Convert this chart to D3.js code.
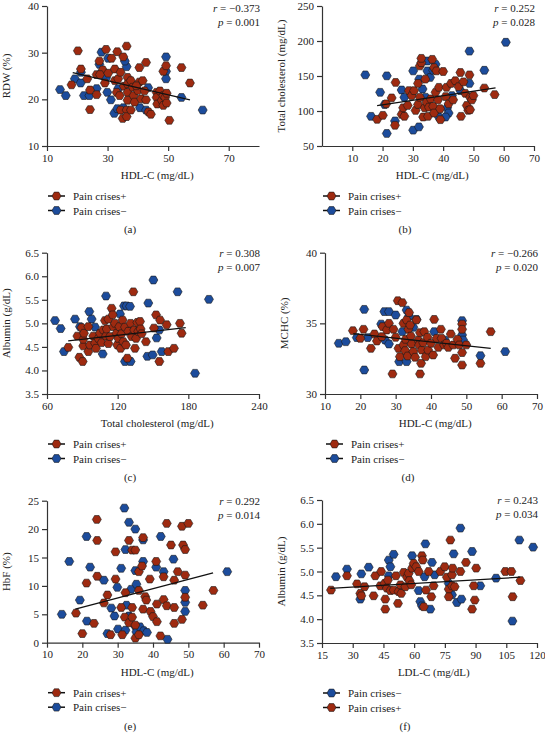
<!DOCTYPE html>
<html><head><meta charset="utf-8">
<script src="https://cdn.jsdelivr.net/npm/d3@7"></script>
<style>
body{margin:0;background:#fff}
text{font-family:"Liberation Serif","Times New Roman",serif;fill:#222}
</style>
</head><body><svg id="c" width="545" height="733" font-family="Liberation Serif, serif"></svg>
<script>
// ---------- DATA ----------
// (a) RDW vs HDL-C
const aPos = [[20.2,30.4],[21.2,26.5],[18.1,23.1],[23.3,24.4],[24.2,22.0],[24.2,17.8],[26.4,21.0],[26.4,25.3],[27.3,28.2],[28.4,26.3],[27.5,25.3],[29.5,30.7],[29.1,23.5],[30.2,25.6],[31.3,28.8],[32.4,26.5],[32.4,24.0],[33.2,30.2],[33.5,24.4],[33.0,21.5],[34.3,25.8],[35.2,29.1],[34.3,17.7],[35.0,15.9],[36.3,17.7],[36.3,16.3],[36.3,31.4],[35.4,22.8],[36.6,24.7],[36.6,23.3],[36.6,21.5],[36.6,19.8],[37.7,17.7],[37.7,24.0],[38.3,22.6],[38.6,20.8],[38.9,19.4],[40.0,21.9],[40.5,23.7],[40.5,26.8],[41.1,20.1],[41.6,24.0],[42.2,21.8],[42.7,27.9],[42.7,19.9],[43.5,17.3],[44.3,16.8],[46.2,21.5],[46.2,20.4],[46.4,19.0],[47.3,21.8],[47.9,19.8],[48.4,26.0],[48.4,20.8],[48.4,18.7],[49.0,20.4],[49.3,27.2],[49.5,19.2],[50.4,15.5],[54.4,26.8],[57.2,23.5],[49.5,21.3],[34.0,20.8],[39.5,22.9]];
const aNeg = [[14.3,22.1],[16.2,20.8],[19.2,24.4],[21.1,23.5],[21.2,25.8],[22.2,20.8],[24.0,20.8],[26.4,22.3],[28.0,30.1],[27.3,27.5],[30.2,28.8],[29.9,21.5],[31.1,19.9],[32.2,17.0],[33.2,18.0],[36.3,27.0],[35.7,28.2],[35.2,18.2],[33.5,22.3],[40.7,18.2],[43.4,22.5],[42.7,17.7],[49.3,29.1],[49.3,26.0],[49.3,24.4],[54.4,20.4],[61.4,17.7],[29.5,24.6]];
const aFit = [[18.5,25.7],[57.2,19.9]];
// (b) Total cholesterol vs HDL-C
const bPos = [[18.2,88.1],[20.1,93.8],[21.2,110.2],[23.0,118.7],[24.1,79.6],[24.3,140.8],[26.3,95.2],[27.2,92.4],[26.8,104.6],[28.3,107.9],[28.7,129.1],[29.6,122.0],[30.4,129.1],[30.9,100.8],[31.7,109.3],[31.7,139.4],[32.3,119.6],[32.3,164.4],[32.8,169.1],[32.8,175.2],[33.4,91.4],[33.9,104.6],[34.1,145.5],[34.5,112.6],[35.0,92.4],[35.3,105.5],[35.9,117.3],[36.4,173.8],[36.7,106.6],[37.0,162.0],[37.0,97.1],[37.5,126.7],[37.8,157.3],[38.3,115.9],[38.6,133.8],[39.0,103.2],[39.1,87.6],[40.0,156.4],[40.8,120.6],[41.1,133.8],[41.8,110.2],[42.6,139.4],[43.3,115.9],[44.0,143.2],[45.1,134.7],[45.7,155.0],[45.9,92.4],[46.7,141.7],[47.3,125.3],[47.8,107.9],[48.3,101.0],[48.7,151.6],[48.9,119.6],[49.5,115.9],[50.0,122.0],[53.6,132.8],[57.0,123.4],[48.9,101.8]];
const bNeg = [[14.3,151.6],[16.2,92.4],[19.2,126.7],[21.4,150.2],[21.4,67.9],[24.1,85.8],[26.3,130.0],[27.2,119.6],[30.1,157.3],[30.1,72.6],[32.0,77.3],[32.1,145.5],[33.2,131.4],[34.8,171.4],[34.8,157.3],[35.7,147.9],[36.7,158.2],[37.5,166.7],[38.6,91.4],[41.3,104.6],[41.8,97.1],[42.9,122.0],[45.7,129.1],[48.7,185.5],[48.7,139.4],[53.6,158.2],[60.7,198.2],[34.2,119.6],[40.8,91.4],[20.7,109.3]];
const bFit = [[18.2,107.7],[57.3,133.0]];
// (c) Albumin vs Total cholesterol
const cPos = [[78.1,4.49],[85.8,4.73],[87.5,4.28],[89.4,4.91],[90.3,4.19],[90.8,4.52],[90.8,4.66],[91.4,4.79],[95.1,4.93],[95.1,4.40],[96.5,4.54],[99.3,4.73],[100.8,4.58],[101.6,4.47],[103.6,4.68],[105.0,4.79],[106.4,4.59],[107.8,4.86],[109.2,5.06],[110.1,4.73],[110.7,4.88],[112.1,5.09],[112.1,4.57],[113.5,4.72],[114.9,5.32],[115.8,5.18],[116.3,4.93],[117.7,5.00],[119.1,4.79],[119.7,4.54],[120.6,4.68],[121.4,4.93],[122.5,4.47],[123.4,4.78],[124.2,5.07],[124.8,4.61],[126.2,4.92],[127.0,4.54],[128.2,4.26],[129.0,4.83],[131.0,5.00],[131.9,4.72],[133.3,5.67],[134.1,4.86],[134.7,4.47],[135.6,4.68],[136.7,5.02],[137.5,4.83],[139.0,5.04],[139.5,4.88],[140.4,4.78],[144.0,4.61],[150.8,4.90],[152.6,5.18],[155.4,4.19],[156.0,5.07],[161.6,4.97],[163.0,4.40],[167.8,4.47],[172.9,5.00],[174.3,4.79]];
const cNeg = [[66.8,5.06],[71.6,4.89],[74.4,4.40],[83.8,5.09],[88.0,4.93],[95.9,5.25],[97.9,5.09],[100.8,4.92],[107.3,4.35],[110.1,5.58],[122.0,5.20],[125.4,5.37],[127.6,5.37],[130.5,5.36],[126.2,4.19],[131.0,4.19],[132.7,4.83],[146.0,5.43],[145.2,4.30],[149.7,4.33],[150.3,5.92],[153.1,4.69],[155.4,4.86],[157.4,4.40],[170.9,5.67],[185.7,3.94],[197.5,5.51]];
const cFit = [[78.0,4.63],[177.8,4.91]];
// (d) MCHC vs HDL-C
const dPos = [[17.9,34.48],[20.0,33.94],[20.9,34.58],[23.0,33.23],[24.0,34.25],[24.7,33.75],[26.1,34.06],[26.3,34.77],[27.5,34.53],[28.1,35.00],[29.1,31.42],[29.4,34.58],[30.0,34.01],[30.6,36.60],[30.8,33.23],[31.2,32.64],[31.9,36.46],[32.2,35.00],[32.2,33.47],[32.7,33.07],[32.8,33.87],[33.1,35.24],[33.4,32.69],[33.6,34.58],[33.8,35.76],[34.1,34.88],[34.3,34.10],[34.5,33.54],[35.0,33.00],[35.5,32.60],[35.9,35.24],[36.4,33.82],[36.6,33.47],[36.9,34.34],[36.9,31.42],[37.2,32.17],[37.4,33.11],[37.8,33.63],[38.1,34.41],[38.5,32.64],[39.0,34.01],[39.2,33.11],[40.0,33.59],[40.6,32.76],[40.9,35.28],[41.6,33.94],[42.1,33.30],[42.8,34.58],[43.0,33.94],[43.7,33.47],[44.4,33.59],[44.9,33.30],[45.6,34.25],[46.3,33.47],[46.8,32.53],[47.5,33.87],[48.0,33.47],[48.8,34.95],[48.8,34.58],[48.8,32.93],[48.8,32.05],[50.0,33.47],[54.0,32.17],[56.9,34.41]];
const dNeg = [[13.9,33.59],[15.9,33.70],[19.0,33.99],[21.1,35.99],[21.1,31.70],[22.1,33.99],[25.9,34.95],[27.0,33.82],[26.8,35.83],[28.1,35.83],[30.0,35.59],[31.0,32.29],[31.9,34.41],[33.1,35.94],[33.1,32.29],[33.8,35.52],[35.0,34.72],[35.9,35.28],[40.9,34.41],[43.9,33.82],[48.8,35.19],[48.8,34.18],[49.1,33.82],[54.0,32.71],[61.0,33.00],[28.1,33.54]];
const dFit = [[18.0,34.27],[56.9,33.23]];
// (e) HbF vs HDL-C
const ePos = [[18.2,5.2],[21.2,10.5],[24.1,21.7],[24.2,18.0],[24.2,11.7],[26.1,7.0],[27.1,8.4],[29.4,16.0],[29.4,11.2],[32.2,8.8],[33.2,18.0],[34.1,16.3],[35.0,16.3],[36.0,9.2],[36.0,12.5],[36.9,13.5],[37.2,18.5],[37.8,8.1],[38.1,7.5],[39.1,11.2],[40.9,14.3],[41.1,6.8],[43.0,11.6],[43.0,7.6],[43.9,21.0],[45.1,17.2],[46.0,11.0],[47.0,12.5],[48.2,20.5],[48.5,17.2],[49.1,16.4],[49.1,11.9],[49.1,8.0],[50.0,21.0],[57.1,9.2],[54.1,6.6],[20.0,1.6],[23.3,3.4],[28.0,1.4],[31.0,6.2],[31.3,1.4],[32.0,4.5],[33.2,3.5],[34.1,6.2],[34.1,4.5],[35.0,3.1],[35.0,0.8],[36.0,1.4],[37.2,5.9],[39.3,5.5],[40.0,4.6],[41.1,3.7],[42.1,1.2],[43.9,6.5],[46.0,6.2],[46.0,3.4],[48.2,4.1]];
const eNeg = [[14.2,5.0],[16.3,14.3],[19.3,7.5],[21.2,18.7],[22.2,13.3],[26.1,11.0],[29.9,9.75],[31.0,13.1],[31.9,23.7],[32.2,16.4],[33.2,21.2],[33.8,9.4],[35.0,20.0],[35.0,12.7],[35.3,10.3],[37.2,14.3],[37.2,18.1],[40.9,13.3],[42.2,18.7],[43.0,12.5],[45.8,14.7],[49.1,9.2],[49.1,7.1],[49.1,5.5],[61.0,12.5],[21.3,3.8],[27.1,1.6],[28.2,6.1],[29.1,4.7],[30.1,2.4],[32.2,2.2],[32.5,6.6],[33.2,4.7],[35.0,2.9],[35.3,1.9],[36.3,2.8],[37.4,2.1],[38.3,1.8],[44.1,0.6]];
const eFit = [[18.0,5.9],[57.0,12.3]];
// (f) Albumin vs LDL-C
const fPos = [[19.4,4.61],[27.2,4.91],[32.1,4.74],[33.7,4.54],[34.2,4.49],[35.8,4.68],[40.2,4.49],[41.0,4.91],[43.5,4.70],[43.9,5.00],[45.6,4.75],[45.9,4.42],[45.9,4.21],[46.7,4.65],[47.2,4.82],[48.4,4.60],[50.0,4.61],[51.1,4.91],[52.1,4.33],[52.4,4.58],[53.3,4.72],[53.7,4.54],[54.9,4.98],[55.7,4.68],[56.5,4.88],[57.3,4.96],[57.7,4.81],[58.6,4.72],[59.0,5.07],[59.8,5.17],[61.0,5.10],[62.2,5.00],[63.8,5.33],[64.2,5.24],[64.7,4.26],[65.8,4.61],[67.1,5.00],[68.4,4.47],[69.5,4.70],[72.8,5.00],[74.9,5.10],[76.0,4.88],[76.9,4.63],[76.9,4.47],[77.7,5.66],[78.5,4.93],[78.5,4.70],[78.8,5.07],[79.8,4.68],[82.6,5.00],[85.3,5.19],[88.3,4.21],[89.1,4.70],[89.6,4.40],[90.3,5.07],[104.5,5.00],[107.5,5.00],[108.1,4.47],[111.9,4.81]];
const fNeg = [[21.8,4.89],[27.2,5.05],[33.7,4.42],[34.2,4.95],[37.8,5.09],[47.6,5.24],[48.4,5.10],[50.0,5.36],[47.6,4.91],[59.0,5.33],[62.2,4.60],[63.0,4.37],[63.8,4.28],[65.1,4.89],[65.5,5.58],[67.9,4.21],[68.7,5.19],[70.0,4.93],[76.9,4.75],[79.3,5.37],[78.5,4.51],[80.9,4.35],[82.6,5.91],[83.1,4.42],[88.3,5.42],[92.3,4.70],[100.0,4.86],[108.0,3.96],[111.4,5.66],[118.1,5.51]];
const fFit = [[19.0,4.645],[111.8,4.88]];

const aXTicks=[10,30,50,70], aYTicks=[10,20,30,40];
const bXTicks=[10,20,30,40,50,60,70], bYTicks=[50,100,150,200,250];
const cXTicks=[60,120,180,240], cYTicks=[3.5,4.0,4.5,5.0,5.5,6.0,6.5];
const dXTicks=[10,20,30,40,50,60,70], dYTicks=[30,35,40];
const eXTicks=[10,20,30,40,50,60,70], eYTicks=[0,5,10,15,20,25];
const fXTicks=[15,30,45,60,75,90,105,120], fYTicks=[3.5,4.0,4.5,5.0,5.5,6.0,6.5];

const stats = [["−0.373","0.001"],["0.252","0.028"],["0.308","0.007"],["−0.266","0.020"],["0.292","0.014"],["0.243","0.034"]];
const labelPos = "Pain crises+", labelNeg = "Pain crises−";

// ---------- LAYOUT ----------
const RED="#9e2a10", BLUE="#1c4c9c";
const panels = [
 {pos:aPos,neg:aNeg,fit:aFit,xd:[10,80],yd:[10,40],xt:aXTicks,yt:aYTicks,xf:d3.format("d"),yf:d3.format("d"),x0:47,x1:259,y0:6,y1:146,xl:"HDL-C (mg/dL)",yl:"RDW (%)",cap:"(a)",order:["pos","neg"],st:stats[0]},
 {pos:bPos,neg:bNeg,fit:bFit,xd:[0,70],yd:[50,250],xt:bXTicks,yt:bYTicks,xf:d3.format("d"),yf:d3.format("d"),x0:322,x1:534,y0:6,y1:146,xl:"HDL-C (mg/dL)",yl:"Total cholesterol (mg/dL)",cap:"(b)",order:["pos","neg"],st:stats[1]},
 {pos:cPos,neg:cNeg,fit:cFit,xd:[60,240],yd:[3.5,6.5],xt:cXTicks,yt:cYTicks,xf:d3.format("d"),yf:d3.format(".1f"),x0:47,x1:259,y0:252.7,y1:394,xl:"Total cholesterol (mg/dL)",yl:"Albumin (g/dL)",cap:"(c)",order:["pos","neg"],st:stats[2]},
 {pos:dPos,neg:dNeg,fit:dFit,xd:[10,70],yd:[30,40],xt:dXTicks,yt:dYTicks,xf:d3.format("d"),yf:d3.format("d"),x0:325,x1:537,y0:252.7,y1:394,xl:"HDL-C (mg/dL)",yl:"MCHC (%)",cap:"(d)",order:["pos","neg"],st:stats[3]},
 {pos:ePos,neg:eNeg,fit:eFit,xd:[10,70],yd:[0,25],xt:eXTicks,yt:eYTicks,xf:d3.format("d"),yf:d3.format("d"),x0:47,x1:259,y0:500.7,y1:642.7,xl:"HDL-C (mg/dL)",yl:"HbF (%)",cap:"(e)",order:["pos","neg"],st:stats[4]},
 {pos:fPos,neg:fNeg,fit:fFit,xd:[15,120],yd:[3.5,6.5],xt:fXTicks,yt:fYTicks,xf:d3.format("d"),yf:d3.format(".1f"),x0:322,x1:537,y0:500,y1:643,xl:"LDL-C (mg/dL)",yl:"Albumin (g/dL)",cap:"(f)",order:["neg","pos"],st:stats[5]}
];

const svg = d3.select("#c");
const R = 4.5;
const hexPath = (()=>{const p=d3.path();for(let i=0;i<6;i++){const a=Math.PI/3*i;const x=R*Math.cos(a),y=R*Math.sin(a);i?p.lineTo(x,y):p.moveTo(x,y);}p.closePath();return p.toString();})();

panels.forEach(P=>{
  const g = svg.append("g");
  const x = d3.scaleLinear().domain(P.xd).range([P.x0,P.x1]);
  const y = d3.scaleLinear().domain(P.yd).range([P.y1,P.y0]);
  const xa = g.append("g").attr("transform",`translate(0,${P.y1})`)
    .call(d3.axisBottom(x).tickValues(P.xt).tickFormat(P.xf).tickSize(5).tickSizeOuter(0).tickPadding(3));
  const ya = g.append("g").attr("transform",`translate(${P.x0},0)`)
    .call(d3.axisLeft(y).tickValues(P.yt).tickFormat(P.yf).tickSize(5).tickSizeOuter(0).tickPadding(3));
  [xa,ya].forEach(a=>{
    a.attr("font-family",null);
    a.selectAll("path,line").attr("stroke","#333").attr("stroke-width",1.2);
    a.selectAll("text").attr("font-size",11).attr("fill","#222");
  });
  const drawPts=(arr,col)=>g.append("g").selectAll("path").data(arr).join("path")
    .attr("d",hexPath).attr("transform",d=>`translate(${x(d[0])},${y(d[1])})`)
    .attr("fill",col).attr("stroke","#1a1a1a").attr("stroke-width",0.6);
  drawPts(P.neg,BLUE);
  drawPts(P.pos,RED);
  g.append("path").attr("d",d3.line().x(d=>x(d[0])).y(d=>y(d[1]))(P.fit))
    .attr("stroke","#111").attr("stroke-width",1.3).attr("fill","none");
  const sx = P.x1+1;
  const top = Math.max(P.y0+4, 12);
  const t1 = g.append("text").attr("x",sx).attr("y",top).attr("text-anchor","end").attr("font-size",11);
  t1.append("tspan").attr("font-style","italic").text("r");
  t1.append("tspan").text(" = "+P.st[0]);
  const t2 = g.append("text").attr("x",sx).attr("y",top+14).attr("text-anchor","end").attr("font-size",11);
  t2.append("tspan").attr("font-style","italic").text("p");
  t2.append("tspan").text(" = "+P.st[1]);
  g.append("text").attr("x",(P.x0+P.x1)/2+(P.x1-P.x0)*0.02).attr("y",P.y1+33).attr("text-anchor","middle").attr("font-size",11).text(P.xl);
  g.append("text").attr("transform",`translate(${P.x0-37},${(P.y0+P.y1)/2}) rotate(-90)`).attr("text-anchor","middle").attr("font-size",11).text(P.yl);
  P.order.forEach((k,i)=>{
    const ly = P.y1+50+i*14.5;
    const lx = P.x0;
    g.append("line").attr("x1",lx+1).attr("x2",lx+18).attr("y1",ly).attr("y2",ly).attr("stroke","#111").attr("stroke-width",1.5);
    g.append("path").attr("d",hexPath).attr("transform",`translate(${lx+9.5},${ly})`)
      .attr("fill",k==="pos"?RED:BLUE).attr("stroke","#1a1a1a").attr("stroke-width",0.6);
    g.append("text").attr("x",lx+26).attr("y",ly+4).attr("font-size",11).text(k==="pos"?labelPos:labelNeg);
  });
  g.append("text").attr("x",P.x0+83).attr("y",P.y1+87).attr("text-anchor","middle").attr("font-size",11).text(P.cap);
});
</script></body></html>
